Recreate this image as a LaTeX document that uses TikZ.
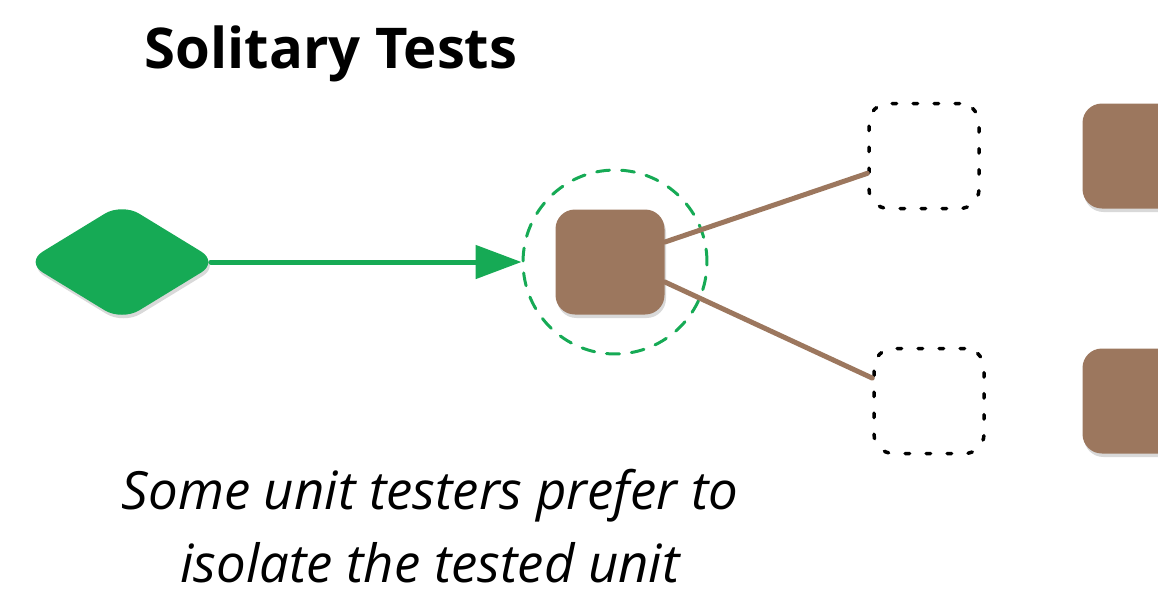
\documentclass[tikz,border=0pt]{standalone}
\usepackage{fontspec}
\setmainfont{Open Sans}
\usetikzlibrary{arrows.meta, positioning, shapes.geometric, shadows}
\definecolor{UTgreen}{RGB}{22, 170, 85}
\definecolor{UTbrown}{RGB}{156, 119, 94}

\begin{document}
\begin{tikzpicture}[
    x=0.02cm, y=-0.02cm,
    line cap=round, line join=round,
    unit/.style={
        fill=UTbrown,
        rounded corners=11pt,
        minimum width=2.18cm,
        minimum height=2.1cm,
        inner sep=0pt,
        drop shadow={shadow xshift=0.03cm, shadow yshift=-0.07cm, opacity=0.3}
    },
    stub/.style={
        draw,
        line width=0.07cm,
        dash pattern=on 0.09cm off 0.33cm,
        rounded corners=11pt,
        minimum width=2.2cm,
        minimum height=2.1cm,
        inner sep=0pt
    },
    trigger/.style={
        diamond,
        fill=UTgreen,
        rounded corners=0.4cm,
        minimum width=3.86cm,
        minimum height=2.36cm,
        inner sep=0pt,
        drop shadow={shadow xshift=0.03cm, shadow yshift=-0.07cm, opacity=0.3}
    },
    isolation/.style={
        circle,
        draw=UTgreen,
        line width=0.06cm,
        dash pattern=on 0.26cm off 0.24cm,
        minimum size=3.68cm,
        inner sep=0pt
    },
    flow/.style={
        draw=UTgreen,
        line width=0.1cm,
        shorten <=-0.16cm,
        -{Triangle[length=0.92cm, width=0.66cm]}
    },
    link/.style={
        draw=UTbrown,
        line width=0.1cm
    }
]
\useasboundingbox (0,0) rectangle (1158,593);
\clip (0,0) rectangle (1158,593);

\node[anchor=base, font=\fontsize{32}{38}\selectfont\bfseries] (title) at (331,68) {Solitary Tests};

\node[trigger] (test) at (122,262) {};
\node[isolation] (iso) at (615,262) {};
\node[unit] (tested) at (610,262) {};

\node[stub] (stubA) at (924,156) {};
\node[stub] (stubB) at (929,401) {};

\node[unit] (realA) at (1137,156) {};
\node[unit] (realB) at (1137,401) {};

\draw[flow] (test.east) -- (iso.west);
\draw[link] (tested.20) -- (stubA.197);
\draw[link] (tested.-20) -- (stubB.158);

\node[align=center, inner sep=0pt, font=\fontsize{30}{42}\selectfont\itshape] (caption) at (430,526)
{Some unit testers prefer to\\isolate the tested unit};

\end{tikzpicture}
\end{document}
